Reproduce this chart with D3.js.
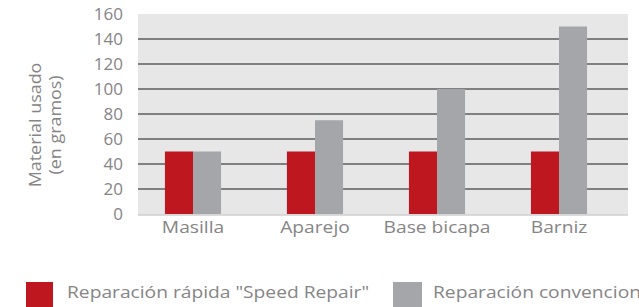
<!DOCTYPE html>
<html>
<head>
<meta charset="utf-8">
<script src="https://cdn.jsdelivr.net/npm/d3@7"></script>
<style>
  body { margin: 0; background: #fff; }
  text { font-family: "Open Sans", sans-serif; fill: #858585; }
</style>
</head>
<body>
<svg id="svg0" width="639" height="307"></svg>
<script>
var width = 639;
var height = 307;

// chart data
var categories = ['Masilla', 'Aparejo', 'Base bicapa', 'Barniz'];
var seriesNames = ['Reparación rápida "Speed Repair"', 'Reparación convencional'];
var speedRepair = [50, 50, 50, 50];
var conventional = [50, 75, 100, 150];
var yTicks = [0, 20, 40, 60, 80, 100, 120, 140, 160];
var yTitle = ['Material usado', '(en gramos)'];

var colors = ['#bf1720', '#a4a6a9'];

var plotLeft = 138, plotRight = 628, plotTop = 14, plotBottom = 215;

// the lettering in the picture is a bit wider than the font
var stretch = 1.2;

function widen(sel, k){
    sel.each(function(){
        var len = this.getComputedTextLength();
        d3.select(this)
            .attr('textLength', len * k)
            .attr('lengthAdjust', 'spacingAndGlyphs');
    });
}

var svg0 = d3.select('#svg0');

var y = d3.scaleLinear()
    .domain([0, 160])
    .range([214, 14]);

var x0 = d3.scaleBand()
    .domain(categories)
    .range([132, 620])
    .paddingInner(0.54)
    .paddingOuter(0.27);

var x1 = d3.scaleBand()
    .domain([0, 1])
    .range([0, x0.bandwidth()]);

//background of the plot
svg0.append('rect')
    .attr('x', plotLeft)
    .attr('y', plotTop)
    .attr('width', plotRight - plotLeft)
    .attr('height', plotBottom - plotTop)
    .attr('fill', '#e7e7e8');

svg0.append('line')
    .attr('x1', plotLeft).attr('x2', plotRight)
    .attr('y1', plotBottom).attr('y2', plotBottom)
    .attr('stroke', '#cfcfcf')
    .attr('stroke-width', 1.5);

//gridlines
svg0.selectAll('.grid')
    .data(yTicks.filter(function(d){ return d > 0 && d < 160; }))
    .enter()
    .append('line')
    .attr('class', 'grid')
    .attr('x1', plotLeft)
    .attr('x2', plotRight)
    .attr('y1', function(d){ return y(d); })
    .attr('y2', function(d){ return y(d); })
    .attr('stroke', '#5e5e5e')
    .attr('stroke-width', 1.6);

//y axis labels
var yAxis = d3.axisLeft(y)
    .tickValues(yTicks)
    .tickSize(0)
    .tickPadding(0);

var gy = svg0.append('g')
    .attr('transform', 'translate(123,0)')
    .call(yAxis);
gy.select('.domain').remove();
gy.selectAll('text')
    .attr('font-family', '"Open Sans", sans-serif')
    .attr('font-size', 17)
    .attr('fill', '#858585');

//bars
var rows = categories.map(function(c, i){
    return {cat: c, values: [speedRepair[i], conventional[i]]};
});

var groups = svg0.selectAll('.group')
    .data(rows)
    .enter()
    .append('g')
    .attr('class', 'group')
    .attr('transform', function(d){ return 'translate(' + x0(d.cat) + ',0)'; });

groups.selectAll('rect')
    .data(function(d){ return d.values; })
    .enter()
    .append('rect')
    .attr('x', function(d, i){ return x1(i); })
    .attr('width', x1.bandwidth())
    .attr('y', function(d){ return y(d); })
    .attr('height', function(d){ return y(0) - y(d); })
    .attr('fill', function(d, i){ return colors[i]; });

//x axis labels
var xAxis = d3.axisBottom(x0)
    .tickSize(0)
    .tickPadding(0);

var gx = svg0.append('g')
    .attr('transform', 'translate(0,222)')
    .call(xAxis);
gx.select('.domain').remove();
gx.selectAll('text')
    .attr('font-family', '"Open Sans", sans-serif')
    .attr('font-size', 16)
    .attr('fill', '#808080')
    .call(widen, stretch);

//y title
var yt = svg0.append('text')
    .attr('transform', 'translate(41,125) rotate(-90)')
    .attr('text-anchor', 'middle')
    .attr('font-size', 16);
yt.selectAll('tspan')
    .data(yTitle)
    .enter()
    .append('tspan')
    .attr('x', 0)
    .attr('dy', function(d, i){ return i == 0 ? 0 : 20; })
    .text(function(d){ return d; })
    .call(widen, 1.12);

//legend
var legendX = [26, 393];
var legend = svg0.selectAll('.legend')
    .data(seriesNames)
    .enter()
    .append('g')
    .attr('class', 'legend')
    .attr('transform', function(d, i){ return 'translate(' + legendX[i] + ',282)'; });

legend.append('rect')
    .attr('width', function(d, i){ return i == 0 ? 27 : 29; })
    .attr('height', 26)
    .attr('fill', function(d, i){ return colors[i]; });

legend.append('text')
    .attr('x', function(d, i){ return i == 0 ? 41 : 40; })
    .attr('y', 16)
    .attr('font-size', 16)
    .attr('fill', '#888')
    .text(function(d){ return d; })
    .call(widen, stretch);
</script>
</body>
</html>
